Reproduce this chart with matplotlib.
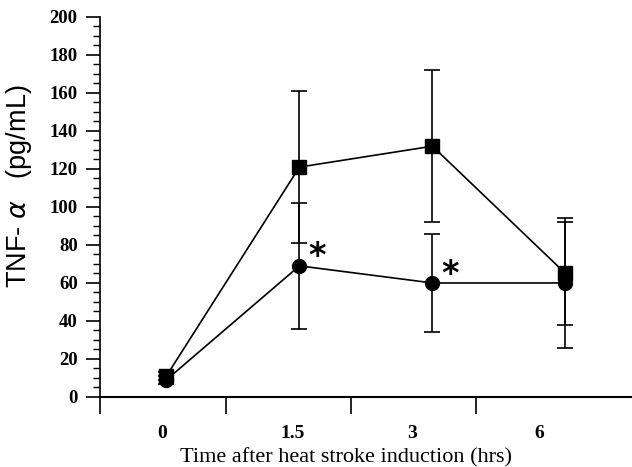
import matplotlib.pyplot as plt
from matplotlib.ticker import MultipleLocator, FixedLocator, NullFormatter

# data
time_labels = ['0', '1.5', '3', '6']
square_mean = [11, 121, 132, 65]
square_sd = [2, 40, 40, 27]
circle_mean = [9, 69, 60, 60]
circle_sd = [2, 33, 26, 34]
star_idx = [1, 2]

x = list(range(len(time_labels)))

fig = plt.figure(figsize=(6.32, 4.67), dpi=100)
ax = fig.add_axes([0.158, 0.15, 0.842, 0.8136])

ax.errorbar(x, square_mean, yerr=square_sd, color='black', marker='s', markersize=10,
            linewidth=1.2, elinewidth=1.2, capsize=6, capthick=1.2)
ax.errorbar(x, circle_mean, yerr=circle_sd, color='black', marker='o', markersize=10,
            linewidth=1.2, elinewidth=1.2, capsize=6, capthick=1.2)

for i in star_idx:
    ax.text(x[i] + 0.13, circle_mean[i] - 4, '*', fontsize=24, fontweight='bold',
            ha='center', va='bottom', family='DejaVu Sans')

ax.set_xlim(-0.5, 3.5)
ax.set_ylim(0, 200)

ax.spines['top'].set_visible(False)
ax.spines['right'].set_visible(False)
ax.spines['left'].set_linewidth(1.2)
ax.spines['bottom'].set_linewidth(1.5)

# y axis
ax.yaxis.set_major_locator(MultipleLocator(20))
ax.yaxis.set_minor_locator(MultipleLocator(5))
ax.tick_params(axis='y', which='major', direction='out', length=10, width=1.2,
               labelsize=13.5, pad=6)
ax.tick_params(axis='y', which='minor', direction='out', length=5, width=1)
for lab in ax.get_yticklabels():
    lab.set_family('Liberation Serif')
    lab.set_fontweight('bold')

# x axis: tick marks and labels are offset from each other
tick_pos = [-0.5, 0.445, 1.39, 2.33]
label_pos = [-0.03, 0.95, 1.85, 2.80]
ax.xaxis.set_major_locator(FixedLocator(label_pos))
ax.set_xticklabels(time_labels)
ax.xaxis.set_minor_locator(FixedLocator(tick_pos))
ax.xaxis.set_minor_formatter(NullFormatter())
ax.tick_params(axis='x', which='major', length=0, pad=20, labelsize=14)
ax.tick_params(axis='x', which='minor', direction='out', length=12, width=1.2)
for lab in ax.get_xticklabels():
    lab.set_family('Liberation Serif')
    lab.set_fontweight('bold')

ax.set_xlabel('Time after heat stroke induction (hrs)', family='Liberation Serif',
              fontsize=16)
ax.xaxis.set_label_coords(0.462, -0.134)
ax.set_ylabel(r'TNF- $\alpha$   (pg/mL)', family='Liberation Sans', fontsize=19.5)
ax.yaxis.set_label_coords(-0.124, 0.555)

fig.savefig('out.png', dpi=100)
